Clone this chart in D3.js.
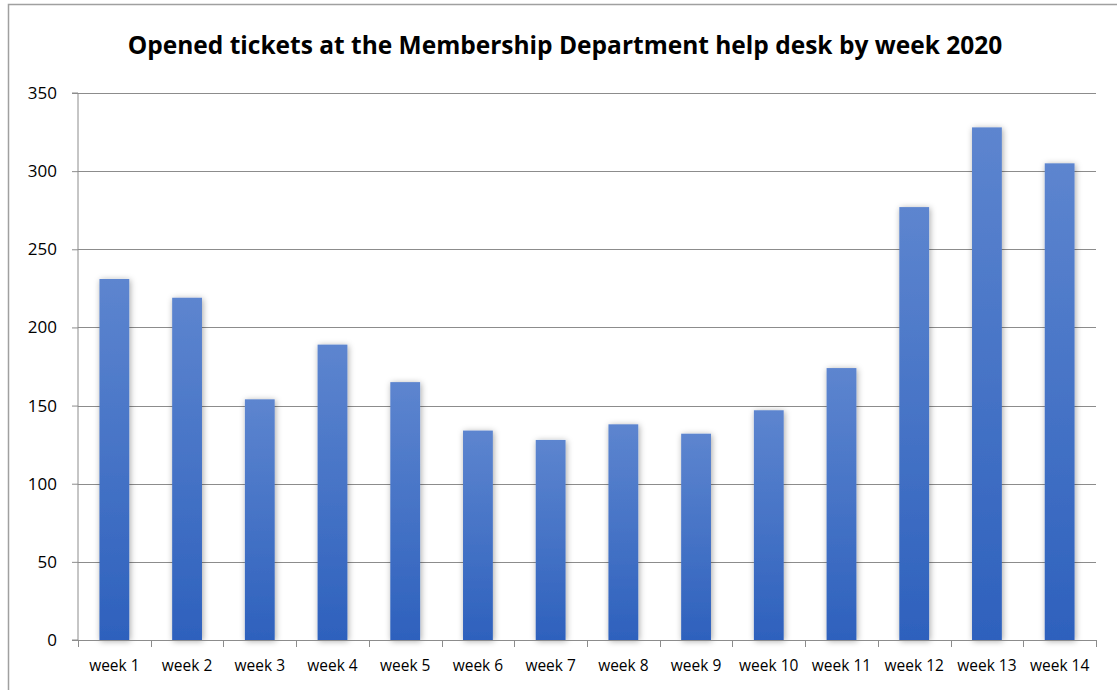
<!DOCTYPE html>
<html>
<head>
<meta charset="utf-8">
<script src="https://cdn.jsdelivr.net/npm/d3@7"></script>
<style>
  body { margin: 0; background: #fff; }
  svg { display: block; font-family: "Open Sans", "Liberation Sans", sans-serif; }
</style>
</head>
<body>
<svg id="chart" width="1117" height="690"></svg>
<script>
(function () {
    'use strict';

    const weeks = ['week 1', 'week 2', 'week 3', 'week 4', 'week 5', 'week 6', 'week 7',
        'week 8', 'week 9', 'week 10', 'week 11', 'week 12', 'week 13', 'week 14'];
    const tickets = [231, 219, 154, 189, 165, 134, 128, 138, 132, 147, 174, 277, 328, 305];
    const yTicks = [0, 50, 100, 150, 200, 250, 300, 350];

    const da = weeks.map((w, i) => ({ wk: w, va: tickets[i] }));

    const ma = { top: 93, right: 21, bottom: 50, left: 78 };
    const sv = d3.select('#chart');
    const wi = 1117 - ma.left - ma.right;
    const he = 690 - ma.top - ma.bottom;

    // outer frame
    sv.append('path')
        .attr('d', 'M8.5,690 L8.5,4.5 L1117,4.5')
        .attr('fill', 'none')
        .attr('stroke', '#a0a0a0')
        .attr('stroke-width', 1.5);

    const defs = sv.append('defs');
    const gd = defs.append('linearGradient')
        .attr('id', 'barGrad')
        .attr('x1', 0).attr('y1', 0).attr('x2', 0).attr('y2', 1);
    gd.append('stop').attr('offset', '0%').attr('stop-color', '#5d85cf');
    gd.append('stop').attr('offset', '100%').attr('stop-color', '#2e61bd');

    const fi = defs.append('filter')
        .attr('id', 'shadow')
        .attr('x', '-40%').attr('y', '-10%')
        .attr('width', '180%').attr('height', '120%');
    fi.append('feDropShadow')
        .attr('dx', 1).attr('dy', 1)
        .attr('stdDeviation', 3)
        .attr('flood-color', '#000')
        .attr('flood-opacity', 0.35);

    const gr = sv.append('g').attr('transform', `translate(${ma.left},${ma.top})`);

    const x_sc = d3.scaleBand().domain(weeks).range([0, wi]).paddingInner(0.59).paddingOuter(0.295);
    const y_sc = d3.scaleLinear().domain([0, 350]).range([he, 0]);

    // gridlines
    gr.append('g')
        .selectAll('line')
        .data(yTicks.filter(t => t > 0))
        .enter()
        .append('line')
        .attr('x1', 0).attr('x2', wi)
        .attr('y1', d => Math.round(y_sc(d)) + 0.5)
        .attr('y2', d => Math.round(y_sc(d)) + 0.5)
        .attr('stroke', '#8c8c8c')
        .attr('stroke-width', 1);

    // bars
    gr.append('g')
        .selectAll('rect')
        .data(da)
        .enter()
        .append('rect')
        .attr('x', d => x_sc(d.wk))
        .attr('y', d => y_sc(d.va))
        .attr('width', x_sc.bandwidth())
        .attr('height', d => he - y_sc(d.va))
        .attr('fill', 'url(#barGrad)')
        .attr('filter', 'url(#shadow)');

    // y axis
    const y_ax = d3.axisLeft(y_sc).tickValues(yTicks).tickSize(6).tickPadding(15);
    const yg = gr.append('g').call(y_ax).attr('font-family', null).attr('font-size', null);
    yg.select('.domain').attr('stroke', '#8c8c8c').attr('d', `M-6,${he}H0V0H-6`);
    yg.selectAll('.tick line').attr('stroke', '#8c8c8c');
    yg.selectAll('text').style('font-size', '17px').attr('fill', '#000');

    // x axis
    const step = x_sc.step();
    const xg = gr.append('g').attr('transform', `translate(0,${he})`);
    xg.append('line')
        .attr('x1', 0).attr('x2', wi)
        .attr('y1', 0.5).attr('y2', 0.5)
        .attr('stroke', '#8c8c8c');
    xg.selectAll('.xt')
        .data(d3.range(weeks.length + 1))
        .enter()
        .append('line')
        .attr('class', 'xt')
        .attr('x1', i => Math.round(i * step) + 0.5)
        .attr('x2', i => Math.round(i * step) + 0.5)
        .attr('y1', 0).attr('y2', 7)
        .attr('stroke', '#8c8c8c');
    xg.selectAll('.xl')
        .data(weeks)
        .enter()
        .append('text')
        .attr('class', 'xl')
        .attr('x', d => x_sc(d) + x_sc.bandwidth() / 2)
        .attr('y', 31)
        .attr('text-anchor', 'middle')
        .style('font-size', '15.5px')
        .attr('fill', '#000')
        .text(d => d);

    sv.append('text')
        .attr('x', 565)
        .attr('y', 54)
        .attr('text-anchor', 'middle')
        .style('font-size', '24.5px')
        .style('font-weight', 'bold')
        .attr('fill', '#000')
        .text('Opened tickets at the Membership Department help desk by week 2020');
})();
</script>
</body>
</html>
